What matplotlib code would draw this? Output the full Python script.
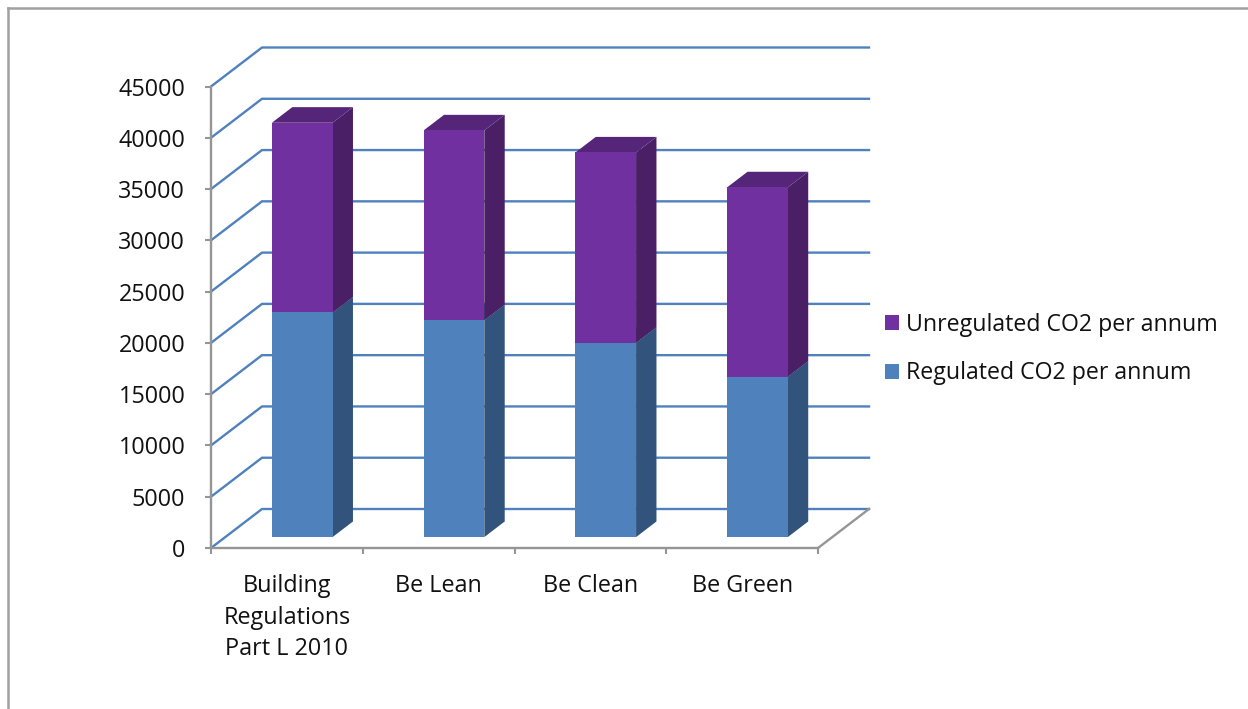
import matplotlib
matplotlib.use("Agg")
import matplotlib.pyplot as plt
from matplotlib.lines import Line2D
from matplotlib.patches import Patch

categories = ["Building\nRegulations\nPart L 2010", "Be Lean", "Be Clean", "Be Green"]
regulated = [21900, 21150, 18950, 15650]
unregulated = [18500, 18500, 18550, 18450]
y_ticks = list(range(0, 45001, 5000))
series_names = ["Unregulated CO2 per annum", "Regulated CO2 per annum"]

W, H = 1248, 709
GRID = "#4f81bd"
AXIS = "#959595"
BLUE = ("#4f81bd", "#32547c", "#3b6190")
PURPLE = ("#7030a0", "#4a1f66", "#55257a")
FONT = "Open Sans"

fig = plt.figure(figsize=(W / 100, H / 100), dpi=100, facecolor="white")
ax = fig.add_axes([211 / W, 1 - 548 / H, (818 - 211) / W, (548 - 86.5) / H])
ax.set_xlim(0, 4)
ax.set_ylim(0, 45000)
ax.patch.set_visible(False)

# Oblique projection: depth 1 is the back wall of the chart box.
DEPTH_X = 51 / (607 / 4)
DEPTH_Y = 39 * 45000 / 461.5


def project(x, y, d):
    return x + d * DEPTH_X, y + d * DEPTH_Y


def polygon(points, color):
    xs, ys = zip(*[project(*p) for p in points])
    ax.fill(xs, ys, color=color, lw=0, clip_on=False, zorder=3)


def box(x0, x1, y0, y1, d0, d1, colors):
    front, side, top = colors
    polygon([(x1, y0, d0), (x1, y0, d1), (x1, y1, d1), (x1, y1, d0)], side)
    polygon([(x0, y1, d0), (x1, y1, d0), (x1, y1, d1), (x0, y1, d1)], top)
    polygon([(x0, y0, d0), (x1, y0, d0), (x1, y1, d0), (x0, y1, d0)], front)


# Gridlines run along the side wall and then across the back wall.
for v in y_ticks:
    xs, ys = zip(*[project(0, v, 0), project(0, v, 1), project(4, v, 1)])
    ax.plot(xs, ys, color=GRID, lw=1.7, clip_on=False, zorder=1, solid_joinstyle="miter")

# Floor edge on the right side.
xs, ys = zip(*[project(4, 0, 0), project(4, 0, 1)])
ax.plot(xs, ys, color=AXIS, lw=1.7, clip_on=False, zorder=1)

BAR_WIDTH = 0.4
D0, D1 = 0.28, 0.68
for i, (reg, unreg) in enumerate(zip(regulated, unregulated)):
    x0 = i + 0.5 - BAR_WIDTH / 2 + 0.007
    x1 = x0 + BAR_WIDTH
    box(x0, x1, 0, reg, D0, D1, BLUE)
    box(x0, x1, reg, reg + unreg, D0, D1, PURPLE)

for name in ("top", "right"):
    ax.spines[name].set_visible(False)
for name in ("left", "bottom"):
    ax.spines[name].set_color(AXIS)
    ax.spines[name].set_linewidth(1.7)

ax.set_yticks(y_ticks)
ax.set_xticks(range(5))
ax.set_xticklabels([])
ax.set_xticks([i + 0.5 for i in range(4)], labels=categories, minor=True)
ax.tick_params(axis="both", which="major", color=AXIS, width=1.5, length=4.5, labelsize=16.8)
ax.tick_params(axis="y", which="major", pad=14)
ax.tick_params(axis="x", which="minor", length=0, pad=19, labelsize=16.8)
for label in ax.get_yticklabels() + ax.get_xticklabels(minor=True):
    label.set_fontfamily(FONT)
    label.set_color("#111111")
    label.set_linespacing(1.41)

handles = [Patch(facecolor=PURPLE[0]), Patch(facecolor=BLUE[0])]
ax.legend(
    handles, series_names,
    loc="center left",
    bbox_to_anchor=(885 / W, 1 - 349 / H),
    bbox_transform=fig.transFigure,
    frameon=False,
    prop={"family": FONT, "size": 16.65},
    handlelength=0.6, handleheight=0.6,
    handletextpad=0.3, labelspacing=1.08, borderpad=0, borderaxespad=0,
    labelcolor="#111111",
)

# Chart-area frame, open towards the right and bottom edges.
frame = dict(color="#a0a0a0", lw=1.8, transform=fig.transFigure)
fig.add_artist(Line2D([8 / W, 8 / W], [0, 1 - 8 / H], **frame))
fig.add_artist(Line2D([8 / W, 1], [1 - 8 / H, 1 - 8 / H], **frame))

fig.savefig("out.png", dpi=100)
